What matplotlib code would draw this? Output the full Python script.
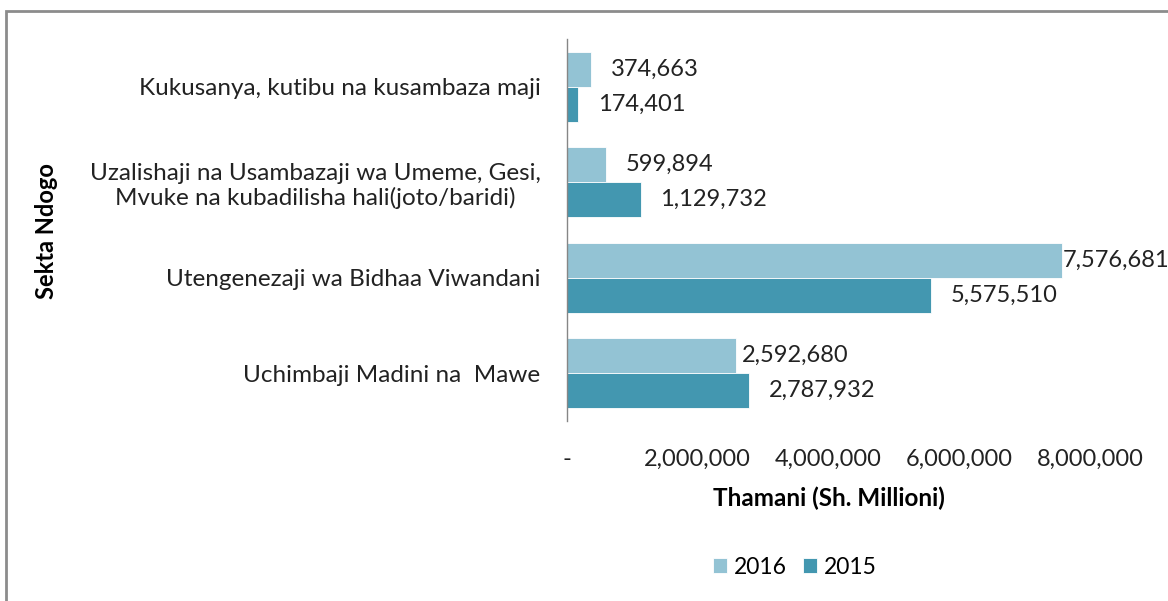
import numpy as np
import matplotlib.pyplot as plt
from matplotlib.patches import Rectangle
from matplotlib.ticker import FuncFormatter

plt.rcParams['font.family'] = ['Lato', 'DejaVu Sans']

# data
sekta = ['Kukusanya, kutibu na kusambaza maji',
         'Uzalishaji na Usambazaji wa Umeme, Gesi,\nMvuke na kubadilisha hali(joto/baridi)',
         'Utengenezaji wa Bidhaa Viwandani',
         'Uchimbaji Madini na  Mawe']
thamani_2016 = [374663, 599894, 7576681, 2592680]
thamani_2015 = [174401, 1129732, 5575510, 2787932]
x_ticks = [0, 2000000, 4000000, 6000000, 8000000]

rangi_2016 = '#93c3d4'
rangi_2015 = '#4397b0'
rangi_maandishi = '#222222'

fig = plt.figure(figsize=(11.68, 6.01), dpi=100)
ax = fig.add_axes([0.4854, 0.2995, 0.4478, 0.6356])

y = np.arange(len(sekta))
h = 0.366
b16 = ax.barh(y - h / 2, thamani_2016, height=h, color=rangi_2016,
              edgecolor='white', linewidth=0.6, label='2016')
b15 = ax.barh(y + h / 2, thamani_2015, height=h, color=rangi_2015,
              edgecolor='white', linewidth=0.6, label='2015')

# lebo za thamani (Excel husogeza baadhi ya lebo karibu na mwisho wa bar)
pad16 = [14, 14, 0, 4]
pad15 = [14, 14, 14, 14]
for bars, vals, pads in [(b16, thamani_2016, pad16), (b15, thamani_2015, pad15)]:
    for bar, v, p in zip(bars, vals, pads):
        ax.annotate(f'{v:,}', (v, bar.get_y() + bar.get_height() / 2),
                    xytext=(p, 0), textcoords='offset points',
                    va='center', ha='left', fontsize=17, color=rangi_maandishi,
                    annotation_clip=False)

ax.set_xlim(0, 8000000)
ax.set_ylim(len(sekta) - 0.5, -0.5)
ax.set_xticks(x_ticks)
ax.xaxis.set_major_formatter(FuncFormatter(lambda v, p: '-' if v == 0 else f'{int(v):,}'))
ax.set_yticks(y)
ax.set_yticklabels(sekta, ha='right', multialignment='center')
ax.tick_params(axis='y', length=0, pad=19, labelsize=17.5, labelcolor=rangi_maandishi)
ax.tick_params(axis='x', length=0, pad=20, labelsize=17, labelcolor=rangi_maandishi)

for s in ['top', 'right', 'bottom']:
    ax.spines[s].set_visible(False)
ax.spines['left'].set_color('#868686')
ax.spines['left'].set_linewidth(1.0)

ax.set_xlabel('Thamani (Sh. Millioni)', fontsize=17.5, fontweight='bold', labelpad=12)
fig.text(47 / 1168, 1 - 231 / 601, 'Sekta Ndogo', rotation=90, fontsize=17,
         fontweight='bold', ha='center', va='center')

fig.legend(handles=[b16, b15], loc='center', bbox_to_anchor=(795 / 1168, 1 - 567 / 601),
           ncol=2, frameon=False, fontsize=16.5, handlelength=0.6, handleheight=0.6,
           handletextpad=0.3, columnspacing=0.7)

# fremu ya chati
fig.add_artist(Rectangle((6 / 1168, -0.2), 1.2, 1.2 - 11 / 601,
                         transform=fig.transFigure, fill=False,
                         edgecolor='#8c8c8c', linewidth=2))

fig.savefig('out.png', dpi=100)
